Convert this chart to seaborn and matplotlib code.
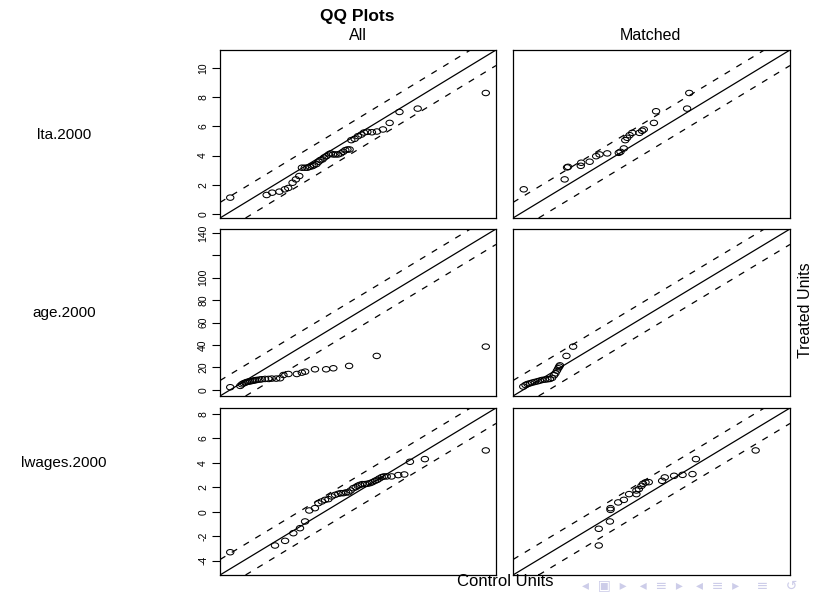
import numpy as np
import pandas as pd
import matplotlib
matplotlib.use("Agg")
import matplotlib.pyplot as plt
from matplotlib.path import Path
import seaborn as sns

# ---------------- data ----------------
variables = ["lta.2000", "age.2000", "lwages.2000"]
column_titles = ["All", "Matched"]

lta_all_control = [0.15, 1.67, 1.90, 2.20, 2.43, 2.57, 2.75, 2.89, 3.03, 3.14, 3.26, 3.37,
                   3.47, 3.58, 3.65, 3.75, 3.84, 3.91, 4.00, 4.07, 4.16, 4.26, 4.34, 4.44,
                   4.54, 4.65, 4.76, 4.86, 4.95, 5.04, 5.13, 5.20, 5.34, 5.48, 5.62, 5.73,
                   5.87, 6.06, 6.27, 6.52, 6.80, 7.21, 7.97, 10.81]
lta_all_treated = [1.12, 1.30, 1.46, 1.53, 1.69, 1.78, 2.14, 2.37, 2.60, 3.17, 3.17, 3.17,
                   3.23, 3.28, 3.35, 3.42, 3.58, 3.69, 3.74, 3.87, 3.96, 4.08, 4.15, 4.08,
                   4.08, 4.08, 4.15, 4.26, 4.37, 4.42, 4.42, 5.06, 5.15, 5.33, 5.44, 5.58,
                   5.63, 5.60, 5.65, 5.79, 6.24, 6.99, 7.22, 8.29]
lta_matched_control = [0.17, 1.87, 1.97, 2.01, 2.54, 2.56, 2.91, 3.18, 3.32, 3.64, 4.12, 4.19,
                       4.33, 4.39, 4.47, 4.57, 4.68, 4.98, 5.09, 5.16, 5.58, 5.67, 6.96, 7.05]
lta_matched_treated = [1.69, 2.37, 3.19, 3.23, 3.30, 3.51, 3.58, 3.96, 4.08, 4.15, 4.19, 4.26,
                       4.49, 5.06, 5.22, 5.40, 5.56, 5.56, 5.70, 5.79, 6.24, 7.04, 7.22, 8.29]

age_all_control = [0.1, 5.5, 6.4, 7.3, 8.2, 9.1, 10.0, 10.9, 11.8, 12.6, 13.5, 14.4, 15.9,
                   17.1, 18.9, 20.7, 22.5, 24.9, 27.0, 28.8, 31.5, 36.0, 38.7, 40.5, 45.8,
                   51.8, 55.7, 64.2, 79.1, 137.9]
age_all_treated = [2.4, 3.6, 5.0, 5.9, 6.5, 7.1, 7.4, 7.7, 8.0, 8.3, 8.6, 8.9, 9.2, 9.5,
                   9.8, 9.8, 10.1, 10.1, 10.4, 13.3, 14.2, 14.2, 15.4, 16.3, 18.4, 18.4,
                   19.3, 21.4, 30.3, 38.6]
age_matched_control = [0.1, 1.3, 2.4, 3.7, 4.9, 6.3, 7.8, 9.0, 10.3, 11.7, 13.1, 14.4, 15.6,
                       16.7, 17.4, 18.2, 18.9, 19.4, 19.8, 23.3, 26.9]
age_matched_treated = [3.0, 4.4, 5.3, 5.9, 6.5, 7.1, 7.7, 8.3, 8.9, 9.2, 9.5, 9.8, 10.7,
                       13.1, 14.8, 17.2, 19.3, 20.8, 21.9, 30.3, 38.6]

lw_all_control = [-4.68, -2.46, -1.96, -1.55, -1.22, -0.97, -0.76, -0.48, -0.31, -0.14, 0.02,
                  0.19, 0.35, 0.52, 0.68, 0.81, 0.93, 1.06, 1.18, 1.29, 1.42, 1.54, 1.64,
                  1.75, 1.87, 2.00, 2.12, 2.25, 2.37, 2.50, 2.61, 2.71, 2.83, 2.94, 3.08,
                  3.32, 3.65, 3.95, 4.23, 4.97, 7.99]
lw_all_treated = [-3.32, -2.77, -2.39, -1.76, -1.35, -0.80, 0.10, 0.29, 0.70, 0.84, 0.97,
                  1.03, 1.25, 1.38, 1.47, 1.52, 1.52, 1.58, 1.58, 1.74, 1.93, 2.01, 2.12,
                  2.20, 2.26, 2.26, 2.29, 2.34, 2.42, 2.53, 2.61, 2.72, 2.83, 2.89, 2.89,
                  2.89, 3.00, 3.05, 4.09, 4.31, 5.02]
lw_matched_control = [-0.95, -0.95, -0.40, -0.37, -0.37, 0.01, 0.29, 0.55, 0.91, 0.91, 1.03,
                      1.16, 1.24, 1.36, 1.52, 2.18, 2.31, 2.77, 3.19, 3.68, 3.85, 6.80]
lw_matched_treated = [-2.77, -1.40, -0.80, 0.15, 0.29, 0.76, 0.97, 1.44, 1.44, 1.74, 1.85,
                      2.12, 2.29, 2.40, 2.42, 2.53, 2.81, 2.94, 3.02, 3.08, 4.31, 5.02]

lta_ticks = [0, 2, 4, 6, 8, 10]
lta_ticklabels = ["0", "2", "4", "6", "8", "10"]
age_ticks = [0, 20, 40, 60, 80, 100, 120, 140]
age_ticklabels = ["0", "20", "40", "60", "80", "100", "", "140"]
lw_ticks = [-4, -2, 0, 2, 4, 6, 8]
lw_ticklabels = ["-4", "-2", "0", "2", "4", "6", "8"]

panels = {
    "lta.2000": [(lta_all_control, lta_all_treated), (lta_matched_control, lta_matched_treated)],
    "age.2000": [(age_all_control, age_all_treated), (age_matched_control, age_matched_treated)],
    "lwages.2000": [(lw_all_control, lw_all_treated), (lw_matched_control, lw_matched_treated)],
}
ticks = {"lta.2000": (lta_ticks, lta_ticklabels),
         "age.2000": (age_ticks, age_ticklabels),
         "lwages.2000": (lw_ticks, lw_ticklabels)}

# ---------------- styling ----------------
sns.set_theme(style="white")
plt.rcParams["font.family"] = ["Liberation Sans", "DejaVu Sans"]
plt.rcParams["text.color"] = "black"
plt.rcParams["axes.labelcolor"] = "black"
plt.rcParams["ytick.color"] = "black"
plt.rcParams["xtick.color"] = "black"
plt.rcParams["axes.linewidth"] = 0.9

fig = plt.figure(figsize=(8.15, 5.93), dpi=100)

W, H = 815.0, 593.0
col_x = [(220, 496), (513, 790)]
row_y = [(50, 218), (229, 396), (408, 575)]

# slightly wide ellipse marker (reference is stretched horizontally)
circ = Path.unit_circle()
ell = Path(circ.vertices * np.array([1.35, 1.0]), circ.codes)

for r, var in enumerate(variables):
    allvals = np.concatenate([np.asarray(v) for pair in panels[var] for v in pair])
    lo, hi = allvals.min(), allvals.max()
    span = hi - lo
    lim = (lo - 0.04 * span, hi + 0.04 * span)
    for c in range(2):
        x0, x1 = col_x[c]
        y0, y1 = row_y[r]
        ax = fig.add_axes([x0 / W, 1 - y1 / H, (x1 - x0) / W, (y1 - y0) / H])
        ctrl, trt = panels[var][c]
        df = pd.DataFrame({"control": ctrl, "treated": trt})
        sns.scatterplot(data=df, x="control", y="treated", ax=ax, marker=ell, s=28,
                        facecolors="none", edgecolors="black", linewidth=0.75, legend=False)
        ax.axline((lo, lo), slope=1, color="black", lw=0.9)
        ax.axline((lo, lo + 0.1 * span), slope=1, color="black", lw=0.9, ls=(0, (5, 6)))
        ax.axline((lo, lo - 0.1 * span), slope=1, color="black", lw=0.9, ls=(0, (5, 6)))
        ax.set_xlim(lim)
        ax.set_ylim(lim)
        ax.set_xlabel("")
        ax.set_ylabel("")
        ax.set_xticks([])
        for s in ax.spines.values():
            s.set_visible(True)
            s.set_color("black")
            s.set_linewidth(0.9)
        if c == 0:
            tk, tl = ticks[var]
            ax.set_yticks(tk)
            ax.set_yticklabels(tl, rotation=90, va="center", fontsize=7.5)
            ax.tick_params(axis="y", left=True, length=6, width=0.8, pad=2.5,
                           direction="out", colors="black")
        else:
            ax.set_yticks([])

fig.text(357 / W, 1 - 16 / H, "QQ Plots", ha="center", va="center",
         fontsize=12.5, fontweight="bold")
fig.text(358 / W, 1 - 35 / H, column_titles[0], ha="center", va="center", fontsize=11.5)
fig.text(650 / W, 1 - 35 / H, column_titles[1], ha="center", va="center", fontsize=11.5)
for lab, yy in zip(variables, [135, 313, 463]):
    fig.text(64 / W, 1 - yy / H, lab, ha="center", va="center", fontsize=11)
fig.text(505 / W, 1 - 581 / H, "Control Units", ha="center", va="center", fontsize=12)
fig.text(805 / W, 1 - 310 / H, "Treated Units", ha="center", va="center",
         rotation=90, fontsize=11.5)

# faint beamer navigation symbols
fig.text(582 / W, 1 - 585 / H,
         "\u25C2  \u25A3  \u25B8   \u25C2  \u2261  \u25B8   \u25C2  \u2261  \u25B8    \u2261    \u21BA",
         ha="left", va="center", fontsize=10, color="#cdcde9",
         family=["DejaVu Sans"])

fig.savefig("out.png", dpi=100)
